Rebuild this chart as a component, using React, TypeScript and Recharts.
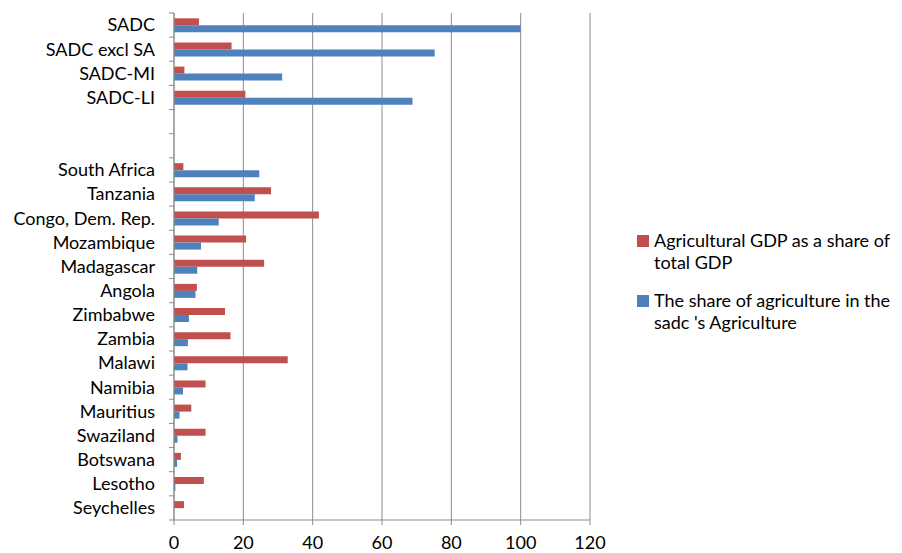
import React from "react";
import { BarChart, Bar, XAxis, YAxis, CartesianGrid, Legend } from "recharts";

const categories = [
  "SADC", "SADC excl SA", "SADC-MI", "SADC-LI", "", " ",
  "South Africa", "Tanzania", "Congo, Dem. Rep.", "Mozambique", "Madagascar",
  "Angola", "Zimbabwe", "Zambia", "Malawi", "Namibia", "Mauritius",
  "Swaziland", "Botswana", "Lesotho", "Seychelles",
];
const agriGdpShare = [
  7.2, 16.6, 3.0, 20.6, null, null,
  2.7, 28.0, 41.8, 20.8, 26.0,
  6.6, 14.7, 16.3, 32.8, 9.1, 5.0,
  9.1, 2.0, 8.6, 2.9,
];
const sadcAgriShare = [
  100, 75.2, 31.2, 68.8, null, null,
  24.6, 23.3, 12.9, 7.8, 6.7,
  6.2, 4.3, 4.0, 3.9, 2.6, 1.6,
  1.0, 0.9, 0.4, 0,
];
const xTicks = [0, 20, 40, 60, 80, 100, 120];
const seriesNames = [
  "Agricultural GDP as a share of total GDP",
  "The share of agriculture in the sadc 's Agriculture",
];

const data = categories.map((c, i) => ({
  name: c,
  gdp: agriGdpShare[i],
  sadc: sadcAgriShare[i],
}));

const FONT = "Lato, 'Open Sans', sans-serif";
const RED = "#C0504D";
const BLUE = "#4F81BD";
const GRID = "#8C8C8C";

const CHART_H = 545;
const MARGIN = { top: 5, right: 312, bottom: 3, left: 0 };
const X_AXIS_H = 30;
const Y_TICK_SIZE = 5;
const Y_TICK_MARGIN = 14;
const PLOT_H = CHART_H - MARGIN.top - MARGIN.bottom - X_AXIS_H;
const BAND = PLOT_H / categories.length;

const YTick = (props: any) => {
  const { x, y, payload, index } = props;
  const axisX = x + Y_TICK_SIZE + Y_TICK_MARGIN;
  const top = y - BAND / 2;
  const bottom = y + BAND / 2;
  return (
    <g>
      <line x1={axisX - 5} x2={axisX} y1={top} y2={top} stroke={GRID} />
      {index === categories.length - 1 && (
        <line x1={axisX - 5} x2={axisX} y1={bottom} y2={bottom} stroke={GRID} />
      )}
      <text
        x={x}
        y={y}
        dy="0.355em"
        textAnchor="end"
        fill="#000"
        fontSize={18}
        fontFamily={FONT}
      >
        {payload.value}
      </text>
    </g>
  );
};

const renderLegend = (props: any) => {
  const { payload } = props;
  return (
    <div style={{ fontFamily: FONT, fontSize: 18, color: "#000", width: 260 }}>
      {payload.map((p: any, i: number) => (
        <div key={i} style={{ display: "flex", alignItems: "flex-start", marginBottom: 16 }}>
          <div
            style={{
              width: 12,
              height: 12,
              background: p.color,
              marginTop: 6,
              marginRight: 5,
              flexShrink: 0,
            }}
          />
          <div style={{ lineHeight: "22px" }}>{p.value}</div>
        </div>
      ))}
    </div>
  );
};

export default function App() {
  return (
    <BarChart
      width={894}
      height={CHART_H}
      data={data}
      layout="vertical"
      margin={MARGIN}
      barCategoryGap="22%"
      barGap={0}
    >
      <CartesianGrid horizontal={false} vertical={true} stroke={GRID} strokeWidth={1} />
      <XAxis
        type="number"
        domain={[0, 120]}
        ticks={xTicks}
        interval={0}
        height={X_AXIS_H}
        axisLine={{ stroke: GRID }}
        tickLine={{ stroke: GRID }}
        tickSize={5}
        tickMargin={11}
        tick={{ fill: "#000", fontSize: 18, fontFamily: FONT }}
      />
      <YAxis
        type="category"
        dataKey="name"
        width={166}
        interval={0}
        axisLine={{ stroke: GRID }}
        tickLine={false}
        tickSize={Y_TICK_SIZE}
        tickMargin={Y_TICK_MARGIN}
        tick={<YTick />}
      />
      <Legend
        layout="vertical"
        align="center"
        verticalAlign="middle"
        content={renderLegend}
        wrapperStyle={{ left: 629, top: 221, width: 265 }}
      />
      <Bar dataKey="gdp" name={seriesNames[0]} fill={RED} isAnimationActive={false} />
      <Bar dataKey="sadc" name={seriesNames[1]} fill={BLUE} isAnimationActive={false} />
    </BarChart>
  );
}
